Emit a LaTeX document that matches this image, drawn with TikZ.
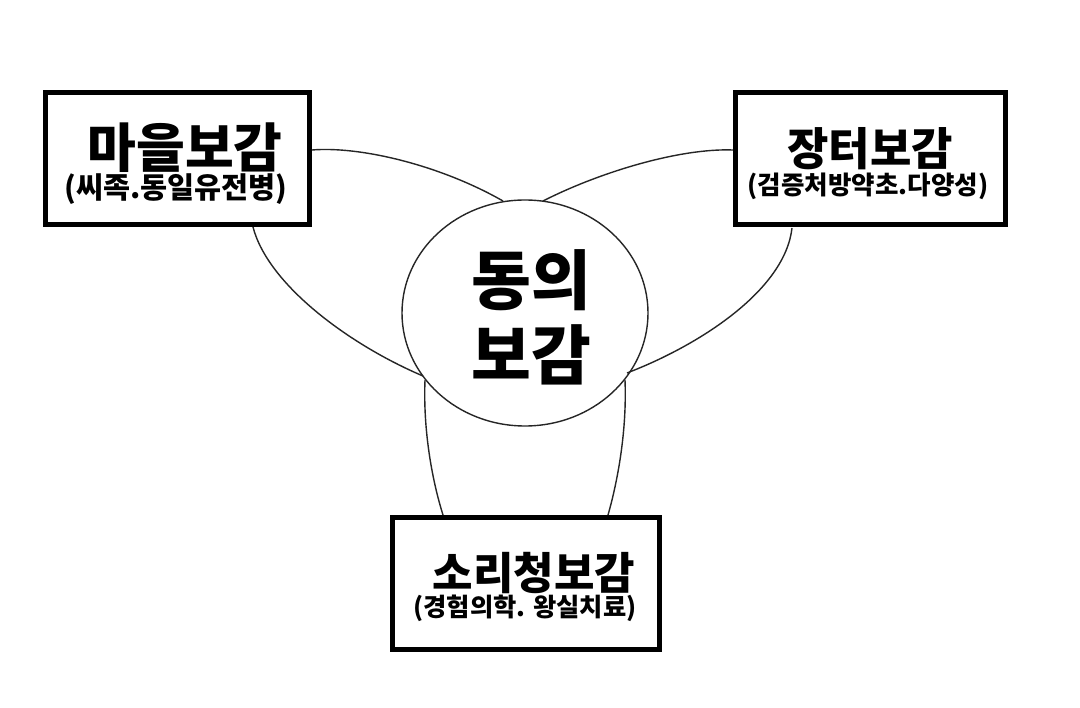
\documentclass[tikz,border=0pt]{standalone}
\usepackage{fontspec}
\newfontfamily\kr{Noto Sans CJK KR}
\usetikzlibrary{shapes.geometric}
\begin{document}
\begin{tikzpicture}[x=1pt,y=-1pt,
  box/.style={draw,line width=5pt,rectangle,inner sep=0pt},
  petal/.style={line width=1.4pt,draw=black!85},
  title/.style={inner sep=0pt,font=\kr\bfseries\fontsize{#1}{#1}\selectfont},
]
\useasboundingbox[fill=white] (0,0) rectangle (1080,708);
% boxes
\node[box,minimum width=264pt,minimum height=132pt] (lb) at (177.5,158.5) {};
\node[box,minimum width=270pt,minimum height=132pt] (rb) at (870.5,158.5) {};
\node[box,minimum width=267pt,minimum height=132pt] (bb) at (526,583.5) {};
% box texts
\node[title=53] (lt) at (185,148) {마을보감};
\node[title=29.4] (ls) at (176,189) {(씨족.동일유전병)};
\node[title=45] (rt) at (870,149) {장터보감};
\node[title=25.5] (rs) at (868,186) {(검증처방약초.다양성)};
\node[title=44] (bt) at (534,573) {소리청보감};
\node[title=25.3] (bs) at (525,608) {(경험의학. 왕실치료)};
% centre
\node[ellipse,draw=black!85,line width=1.4pt,minimum width=246pt,minimum height=226pt,inner sep=0pt] (c) at (525,313) {};
\node[inner sep=0pt,align=center,font=\kr\bfseries\fontsize{65}{75}\selectfont] (ct) at (531,317) {동의\\보감};
% petal end points
\coordinate (a1) at (312,150); \coordinate (a2) at (503,201);
\coordinate (b1) at (253,227); \coordinate (b2) at (423,376);
\coordinate (c1) at (543,201); \coordinate (c2) at (733,150);
\coordinate (d1) at (792,228); \coordinate (d2) at (627,373);
\coordinate (e1) at (425,380); \coordinate (e2) at (443,515);
\coordinate (f1) at (625,380); \coordinate (f2) at (608,515);
\draw[petal] (a1) .. controls (360,146) and (440,165) .. (a2);
\draw[petal] (b1) .. controls (268,285) and (350,345) .. (b2);
\draw[petal] (c1) .. controls (600,172) and (680,148) .. (c2);
\draw[petal] (d1) .. controls (785,290) and (700,345) .. (d2);
\draw[petal] (e1) .. controls (423,430) and (432,480) .. (e2);
\draw[petal] (f1) .. controls (627,430) and (618,480) .. (f2);
\end{tikzpicture}
\end{document}
